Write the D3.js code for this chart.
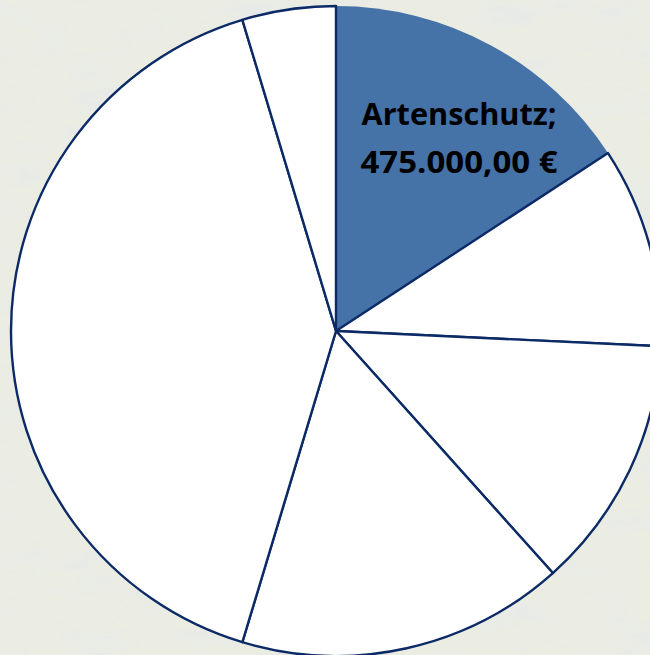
<!DOCTYPE html>
<html>
<head>
<meta charset="utf-8">
<script src="https://cdn.jsdelivr.net/npm/d3@7"></script>
<style>
  html, body { margin: 0; padding: 0; overflow: hidden; }
  svg { display: block; }
</style>
</head>
<body>
<svg id="chart"></svg>
<script>
// slices clockwise from 12 o'clock, only the first one is labelled in the picture
const categories = ["Artenschutz", "Bereich 2", "Bereich 3", "Bereich 4", "Bereich 5", "Bereich 6"];
const values = [475000, 300000, 380000, 490000, 1225000, 140000];
const shown = [true, false, false, false, false, false];

const width = 650
const height = 655;
const cx = 336, cy = 331, radius = 325;

const svg = d3.select("#chart").attr("width", width).attr("height", height);

// grass-ish washed out backdrop
const defs = svg.append("defs");
const f = defs.append("filter").attr("id", "grass")
    .attr("x", 0).attr("y", 0).attr("width", "100%").attr("height", "100%");
f.append("feTurbulence").attr("type", "fractalNoise")
    .attr("baseFrequency", "0.015 0.04").attr("numOctaves", 3).attr("seed", 7);
f.append("feColorMatrix").attr("type", "matrix")
    .attr("values", "0 0 0 0 0.78  0 0 0 0 0.79  0 0 0 0 0.86  0 0 0 -2.2 1.25");

svg.append("rect").attr("width", width).attr("height", height).attr("fill", "#ebede2");
svg.append("rect").attr("width", width).attr("height", height)
    .attr("filter", "url(#grass)").attr("opacity", 0.5);

const pie = d3.pie().sort(null).value(d => d)(values);
const arc = d3.arc().innerRadius(0).outerRadius(radius);

const g = svg.append("g").attr("transform", `translate(${cx},${cy})`);

g.selectAll("path.slice")
  .data(pie)
  .join("path")
    .attr("class", "slice")
    .attr("d", arc)
    .attr("fill", (d, i) => shown[i] ? "#4572a7" : "#ffffff")
    .attr("stroke", (d, i) => shown[i] ? "none" : "#0b2a66")
    .attr("stroke-width", 2.4)
    .attr("stroke-linejoin", "round");

// keep the white slices' strokes on top of the blue one
g.selectAll("path.slice").filter((d, i) => !shown[i]).raise();

const fmt = d3.formatLocale({ decimal: ",", thousands: ".", grouping: [3], currency: ["", " €"] }).format("$,.2f");

const labels = g.selectAll("text.lbl")
  .data(pie.filter((d, i) => shown[i]))
  .join("text")
    .attr("class", "lbl")
    .attr("text-anchor", "middle")
    .attr("font-family", "'Open Sans', sans-serif")
    .attr("font-weight", "bold")
    .attr("font-size", 31)
    .attr("fill", "#000");

labels.append("tspan").attr("x", 123).attr("y", -206)
    .attr("textLength", 195).attr("lengthAdjust", "spacingAndGlyphs")
    .text(d => categories[d.index] + ";");
labels.append("tspan").attr("x", 123).attr("y", -158)
    .attr("textLength", 197).attr("lengthAdjust", "spacingAndGlyphs")
    .text(d => fmt(d.data));
</script>
</body>
</html>
